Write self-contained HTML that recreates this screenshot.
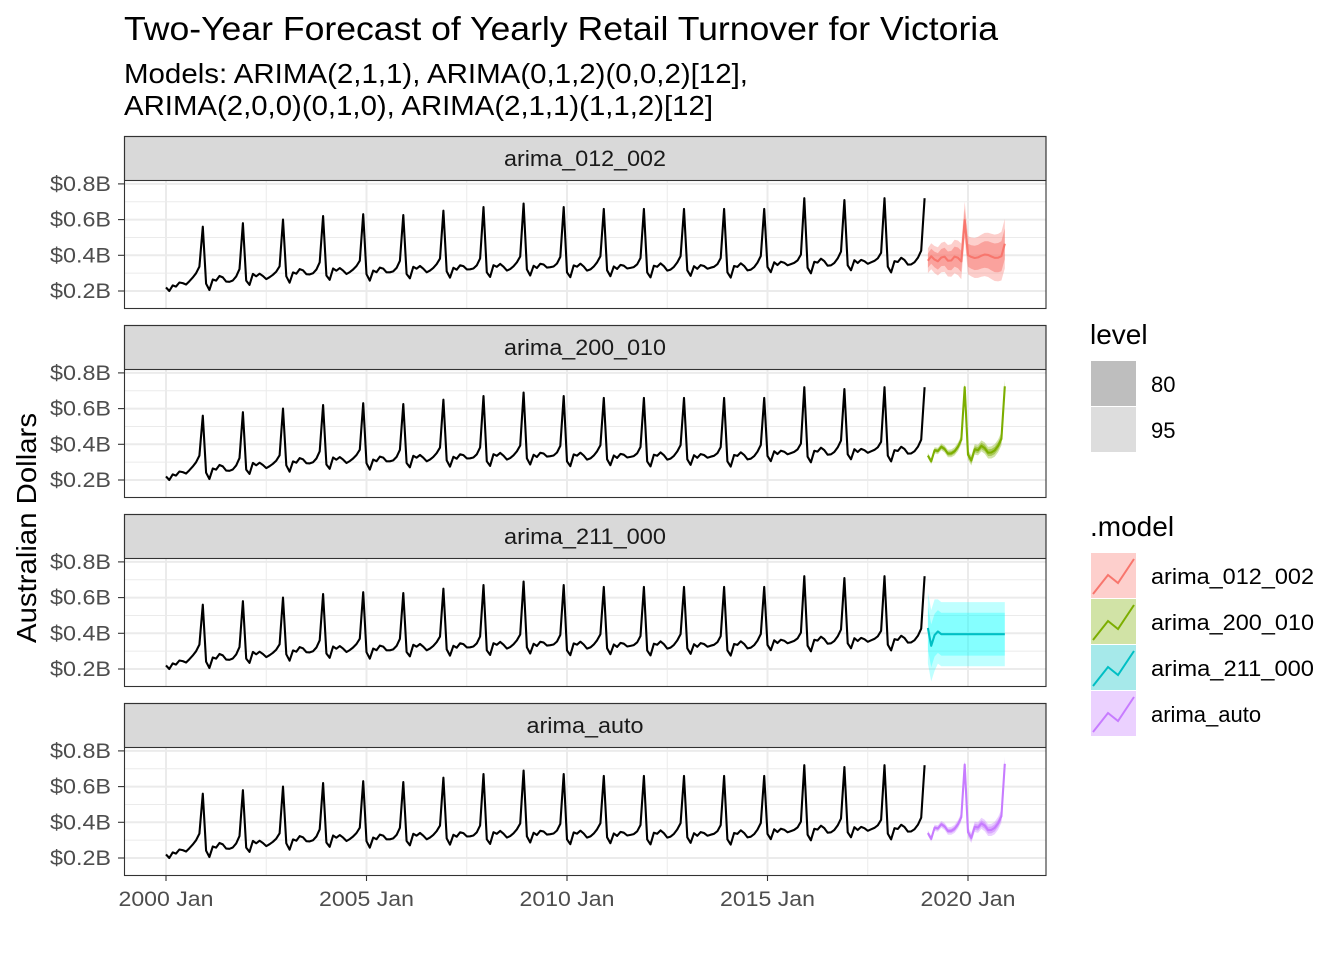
<!DOCTYPE html>
<html><head><meta charset="utf-8"><style>
body{margin:0;background:#fff}
svg text{font-family:"Liberation Sans",Arial,sans-serif}
</style></head><body>
<svg id="s" width="1344" height="960" xmlns="http://www.w3.org/2000/svg">
<text x="124" y="40" font-size="33" textLength="874" lengthAdjust="spacingAndGlyphs" fill="#000">Two-Year Forecast of Yearly Retail Turnover for Victoria</text>
<text x="124" y="83" font-size="28" textLength="624" lengthAdjust="spacingAndGlyphs" fill="#000">Models: ARIMA(2,1,1), ARIMA(0,1,2)(0,0,2)[12],</text>
<text x="124" y="115" font-size="28" textLength="589" lengthAdjust="spacingAndGlyphs" fill="#000">ARIMA(2,0,0)(0,1,0), ARIMA(2,1,1)(1,1,2)[12]</text>
<text transform="translate(36,528) rotate(-90)" text-anchor="middle" font-size="28" textLength="230" lengthAdjust="spacingAndGlyphs" fill="#000">Australian Dollars</text>
<g id="g"></g>
<text x="1090" y="344" font-size="28" fill="#000">level</text>
<rect x="1091" y="361" width="45" height="45" fill="#BEBEBE"/>
<rect x="1091" y="407" width="45" height="45" fill="#DDDDDD"/>
<text x="1151" y="392" font-size="22" fill="#000">80</text>
<text x="1151" y="438" font-size="22" fill="#000">95</text>
<text x="1090" y="536" font-size="28" fill="#000">.model</text>
<g id="leg"></g>
</svg>
<script>
const NS="http://www.w3.org/2000/svg";
const g=document.getElementById('g'),leg=document.getElementById('leg');
function el(t,a,p){const e=document.createElementNS(NS,t);for(const k in a)e.setAttribute(k,a[k]);(p||g).appendChild(e);return e;}
const X=m=>166+m*40.1/12;
const peaks=[0.56,0.58,0.6,0.62,0.63,0.625,0.65,0.67,0.69,0.67,0.66,0.66,0.66,0.66,0.66,0.72,0.71,0.72,0.72];
const base=[0.25,0.27,0.29,0.31,0.32,0.32,0.33,0.335,0.34,0.345,0.34,0.34,0.34,0.34,0.34,0.36,0.365,0.37,0.37];
const pat=[-0.03,-0.06,0,-0.01,0.01,0,-0.02,-0.015,-0.005,0.015,0.05];
const hist=[];
for(let y=0;y<19;y++){for(let m=0;m<11;m++){let b=base[y]+(y==0?(m-5)*0.008:0);hist.push(b+pat[m]+Math.sin(y*3+m)*0.006);}hist.push(peaks[y]);}
hist[0]=0.22;hist[1]=0.2;
const seas=[];for(let m=0;m<12;m++)seas.push(hist[216+m]);
const cols=['#F8766D','#7CAE00','#00BFC4','#C77CFF'];
const names=['arima_012_002','arima_200_010','arima_211_000','arima_auto'];
function fc(k){const mean=[],w80=[],w95=[];
for(let i=0;i<24;i++){let m=i%12,v,a,b;
 if(k==0){v=0.38+(m==11?(i==11?0.22:0.07):0)+Math.sin(i*1.7)*0.015;if(i>=12&&m!=11)v=0.395-0.01*Math.sin(i);if(i==0)v=0.37;a=0.04+i*0.002;b=0.07+i*0.003;}
 else if(k==2){v=i==0?0.43:i==1?0.33:i==2?0.39:i==3?0.41:0.395;a=0.12;b=0.18+(i<3?0.02:0);}
 else{v=seas[m]+(i>=12?0.005:0)+(k==3?0.003:0);a=0.008+i*0.0006;b=0.015+i*0.001;}
 mean.push(v);w80.push(a);w95.push(b);}
return {mean,w80,w95};}
const tops=[136,325,514,703];
for(let p=0;p<4;p++){
 const t=tops[p],py=t+44,ph=128;const Y=v=>py+111-(v-0.2)*178.5;
 el('rect',{x:124,y:py,width:922,height:ph,fill:'#fff'});
 for(const v of [0.3,0.5,0.7])el('line',{x1:124,x2:1046,y1:Y(v),y2:Y(v),stroke:'#EBEBEB','stroke-width':1});
 for(const yr of [2.5,7.5,12.5,17.5])el('line',{x1:X(yr*12),x2:X(yr*12),y1:py,y2:py+ph,stroke:'#EBEBEB','stroke-width':1});
 for(const v of [0.2,0.4,0.6,0.8])el('line',{x1:124,x2:1046,y1:Y(v),y2:Y(v),stroke:'#EBEBEB','stroke-width':2});
 for(const yr of [0,5,10,15,20])el('line',{x1:X(yr*12),x2:X(yr*12),y1:py,y2:py+ph,stroke:'#EBEBEB','stroke-width':2});
 let d='';hist.forEach((v,i)=>d+=(i?'L':'M')+X(i).toFixed(1)+' '+Y(v).toFixed(1));
 el('path',{d,fill:'none',stroke:'#000','stroke-width':2.1,'stroke-linejoin':'round'});
 const f=fc(p);
 const ops=p==2?[[f.w95,0.25],[f.w80,0.3]]:[[f.w95,0.35],[f.w80,0.5]];
 const fillc=p==2?'#00FFFF':cols[p];
 for(const [w,op] of ops){let up='',dn='';
  for(let i=0;i<24;i++){up+=(i?'L':'M')+X(228+i).toFixed(1)+' '+Y(f.mean[i]+w[i]).toFixed(1);}
  for(let i=23;i>=0;i--){dn+='L'+X(228+i).toFixed(1)+' '+Y(f.mean[i]-w[i]).toFixed(1);}
  el('path',{d:up+dn+'Z',fill:fillc,'fill-opacity':op});}
 let md='';f.mean.forEach((v,i)=>md+=(i?'L':'M')+X(228+i).toFixed(1)+' '+Y(v).toFixed(1));
 el('path',{d:md,fill:'none',stroke:cols[p],'stroke-width':2.1,'stroke-linejoin':'round'});
 el('rect',{x:124.5,y:t+0.5,width:921.5,height:44,fill:'#D9D9D9',stroke:'#333','stroke-width':1.1});
 el('rect',{x:124.5,y:t+0.5,width:921.5,height:ph+44,fill:'none',stroke:'#333','stroke-width':1.1});
 const tx=el('text',{x:585,y:t+30,'text-anchor':'middle','font-size':22,textLength:162,lengthAdjust:'spacingAndGlyphs',fill:'#1A1A1A'});tx.textContent=names[p];
 if(p==3){tx.setAttribute('textLength',117);}
 for(const v of [0.2,0.4,0.6,0.8]){el('line',{x1:118,x2:124,y1:Y(v),y2:Y(v),stroke:'#333','stroke-width':1.1});
  const l=el('text',{x:111,y:Y(v)+7,'text-anchor':'end','font-size':21,textLength:61,lengthAdjust:'spacingAndGlyphs',fill:'#4D4D4D'});l.textContent='$'+v.toFixed(1)+'B';}
}
for(const yr of [0,5,10,15,20]){const x=X(yr*12);el('line',{x1:x,x2:x,y1:875,y2:881,stroke:'#333','stroke-width':1.1});
 const l=el('text',{x:x,y:906,'text-anchor':'middle','font-size':21,textLength:95,lengthAdjust:'spacingAndGlyphs',fill:'#4D4D4D'});l.textContent=(2000+yr)+' Jan';}
for(let i=0;i<4;i++){const y=553+i*46;
 el('rect',{x:1091,y:y,width:45,height:45,fill:cols[i],'fill-opacity':0.35},leg);
 el('path',{d:`M1093 ${y+41}L1108 ${y+22}L1118 ${y+30}L1134 ${y+6}`,fill:'none',stroke:cols[i],'stroke-width':2},leg);
 const l=el('text',{x:1151,y:y+31,'font-size':22,fill:'#000'},leg);l.textContent=names[i];
 if(i<3){l.setAttribute('textLength',163);l.setAttribute('lengthAdjust','spacingAndGlyphs');}}
</script>
</body></html>
